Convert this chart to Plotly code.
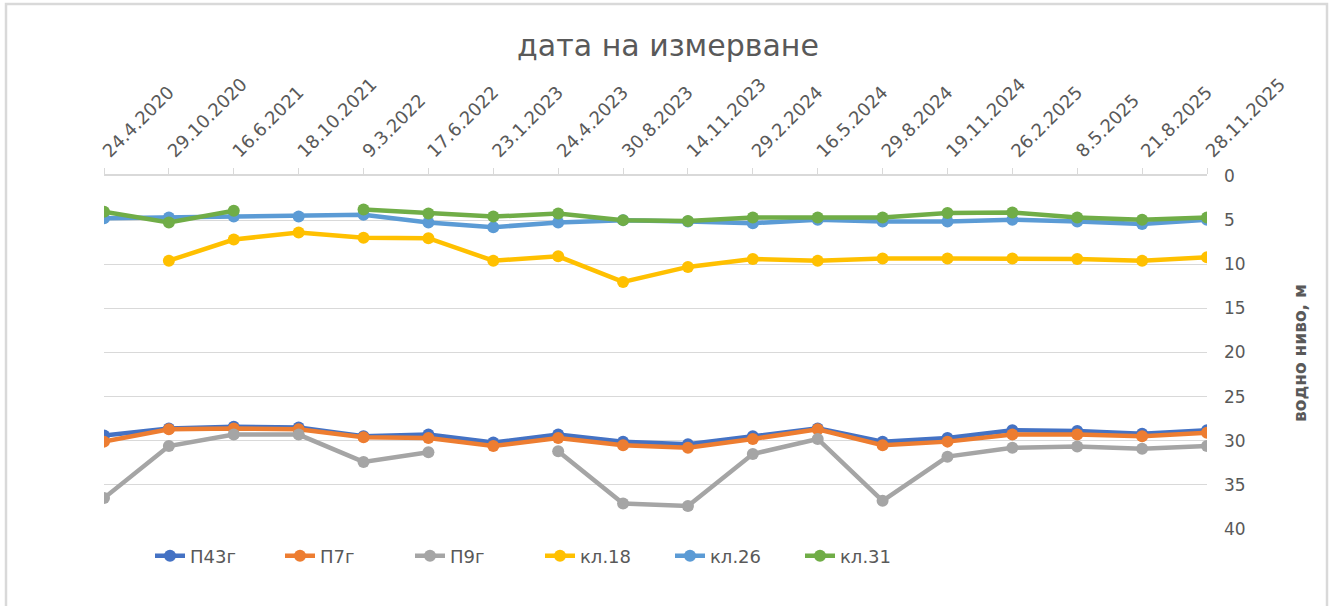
import plotly.graph_objects as go

dates = ["24.4.2020", "29.10.2020", "16.6.2021", "18.10.2021", "9.3.2022", "17.6.2022",
         "23.1.2023", "24.4.2023", "30.8.2023", "14.11.2023", "29.2.2024", "16.5.2024",
         "29.8.2024", "19.11.2024", "26.2.2025", "8.5.2025", "21.8.2025", "28.11.2025"]

p43g = [29.4, 28.6, 28.4, 28.5, 29.5, 29.3, 30.2, 29.3, 30.1, 30.4, 29.5, 28.6, 30.1, 29.7, 28.8, 28.9, 29.2, 28.8]
p7g = [30.1, 28.7, 28.6, 28.7, 29.6, 29.7, 30.6, 29.7, 30.5, 30.8, 29.8, 28.7, 30.5, 30.1, 29.3, 29.3, 29.5, 29.1]
p9g = [36.5, 30.6, 29.3, 29.3, 32.4, 31.3, None, 31.2, 37.1, 37.4, 31.5, 29.8, 36.8, 31.8, 30.8, 30.65, 30.9, 30.6]
kl18 = [None, 9.6, 7.2, 6.4, 7.0, 7.05, 9.6, 9.1, 12.0, 10.3, 9.4, 9.6, 9.35, 9.35, 9.35, 9.4, 9.6, 9.2]
kl26 = [4.8, 4.7, 4.6, 4.6, 4.4, 5.27, 5.8, 5.27, 5.0, 5.15, 5.35, 4.96, 5.15, 5.15, 4.96, 5.15, 5.45, 4.96]
kl31 = [4.05, 5.27, 3.94, None, 3.8, 4.25, 4.6, 4.25, 5.0, 5.1, 4.7, 4.7, 4.7, 4.2, 4.13, 4.7, 4.96, 4.7]

series = [
    ("П43г", p43g, "#4472C4"),
    ("П7г", p7g, "#ED7D31"),
    ("П9г", p9g, "#A5A5A5"),
    ("кл.18", kl18, "#FFC000"),
    ("кл.26", kl26, "#5B9BD5"),
    ("кл.31", kl31, "#70AD47"),
]

W, H = 1336, 606
L, R, T, B = 104, 1207, 176, 529

def px(x):
    return (x - L) / (R - L)

def py(y):
    return (B - y) / (B - T)

fig = go.Figure()
for name, vals, col in series:
    fig.add_trace(go.Scatter(
        x=dates, y=vals, name=name, mode="lines+markers",
        line=dict(color=col, width=4.5),
        marker=dict(color=col, size=12),
        connectgaps=False,
    ))

grey = "#595959"
FONT = "DejaVu Sans, Open Sans, sans-serif"
fig.update_layout(
    width=W, height=H,
    margin=dict(l=L, r=W - R, t=T, b=H - B),
    paper_bgcolor="white", plot_bgcolor="white",
    font=dict(family=FONT, color=grey),
    title=dict(text="дата на измерване", x=668 / W, xanchor="center",
               y=1 - 45 / H, yanchor="middle", xref="container",
               yref="container", font=dict(size=30, color=grey, family=FONT)),
    showlegend=True,
    legend=dict(orientation="h", x=px(150), xanchor="left", y=py(556), yanchor="middle",
                font=dict(size=18, color=grey, family=FONT), itemwidth=30,
                entrywidth=85, entrywidthmode="pixels"),
    xaxis=dict(type="category", side="top", range=[0, len(dates) - 1],
               showgrid=False, showline=True, linecolor="#d9d9d9", linewidth=1.5,
               ticks="outside", ticklen=6, tickcolor="#d9d9d9", tickangle=-45,
               tickfont=dict(size=18, color=grey, family=FONT), zeroline=False),
    yaxis=dict(side="right", range=[40, 0], dtick=5, showgrid=True,
               gridcolor="#d9d9d9", gridwidth=1.2, showline=False, zeroline=False,
               ticks="", ticklabelstandoff=16, tickfont=dict(size=17, color=grey, family=FONT)),
    annotations=[dict(text="<b>водно ниво, м</b>", xref="paper", yref="paper",
                      x=px(1300), y=py(353), textangle=-90, showarrow=False,
                      font=dict(size=17, color=grey, family=FONT), xanchor="center", yanchor="middle")],
    shapes=[dict(type="path", xref="paper", yref="paper",
                 path=f"M {px(6)} {py(620)} L {px(6)} {py(4)} L {px(1327)} {py(4)} L {px(1327)} {py(620)}",
                 line=dict(color="#d9d9d9", width=2.5), layer="below")],
)

fig.write_html("out.html", config={"displayModeBar": False},
               post_script="document.body.style.margin='0';document.body.style.overflow='hidden';")
